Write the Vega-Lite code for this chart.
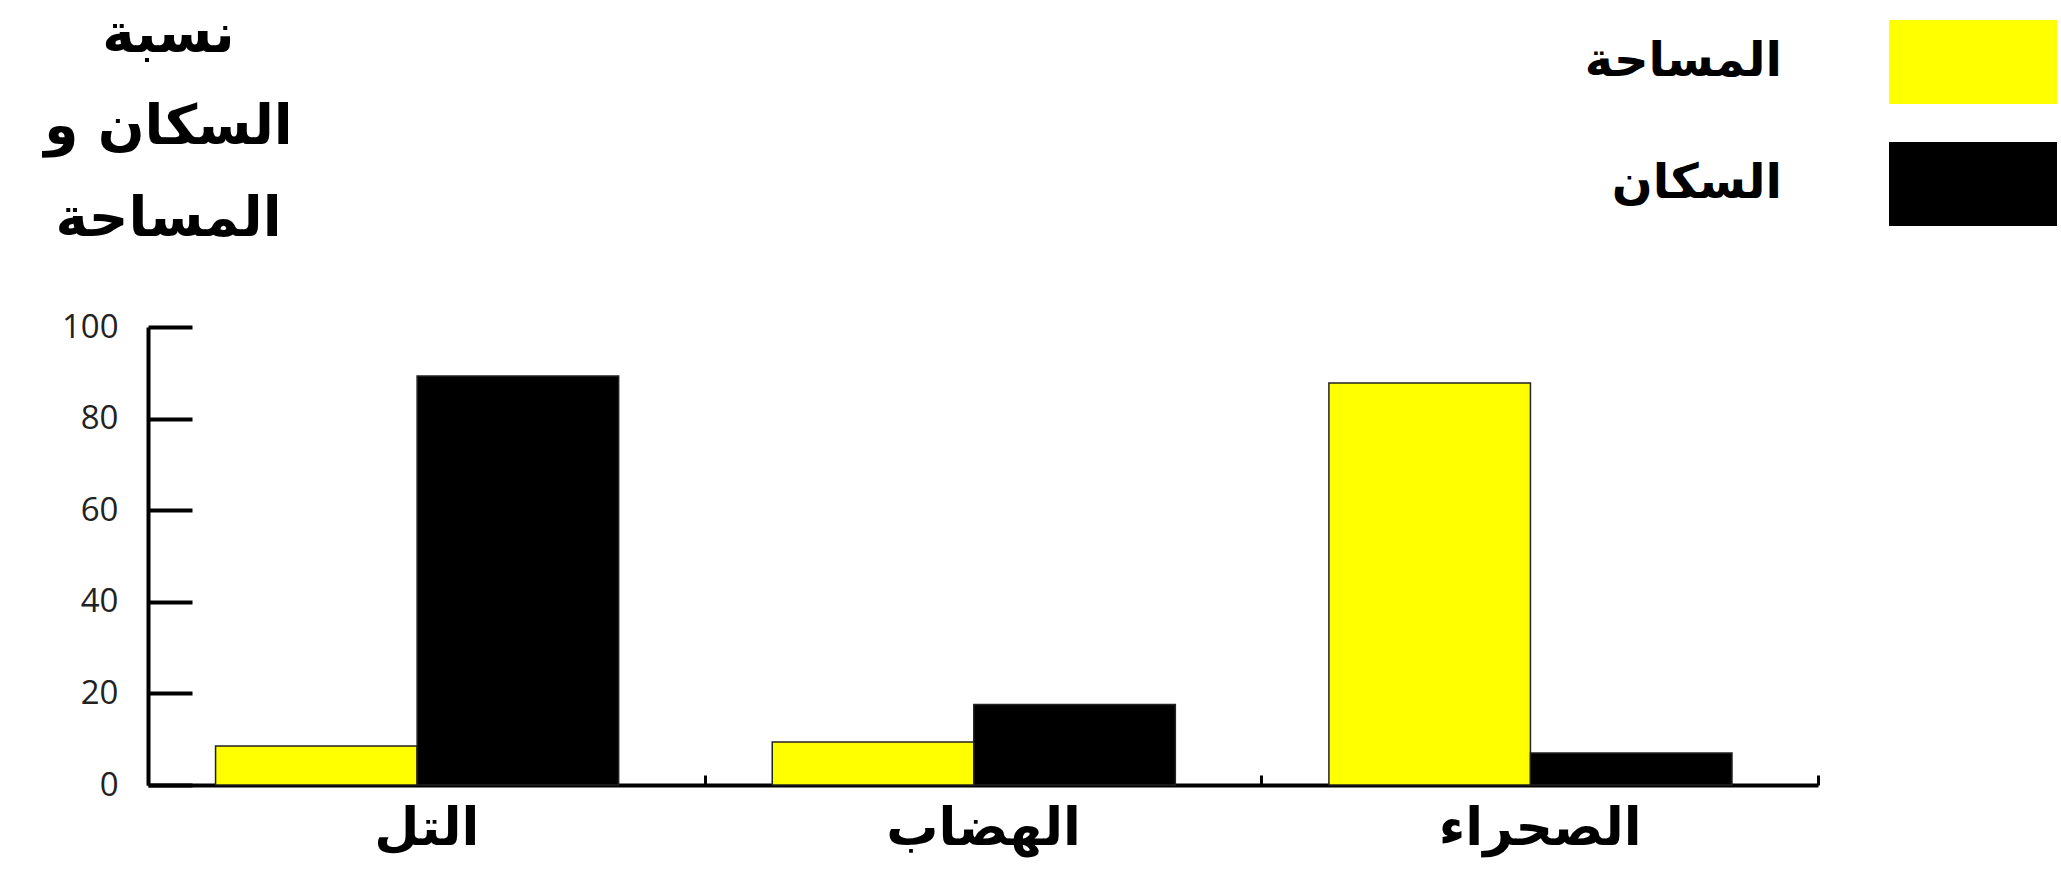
{
  "$schema": "https://vega.github.io/schema/vega-lite/v6.json",
  "width": 1670,
  "height": 458,
  "autosize": {"type": "none"},
  "padding": {"left": 148, "top": 327, "right": 243, "bottom": 99},
  "background": "white",
  "data": {"values": [
    {"region": "التل", "series": "المساحة", "value": 8.5},
    {"region": "التل", "series": "السكان", "value": 89.3},
    {"region": "الهضاب", "series": "المساحة", "value": 9.4},
    {"region": "الهضاب", "series": "السكان", "value": 17.6},
    {"region": "الصحراء", "series": "المساحة", "value": 87.8},
    {"region": "الصحراء", "series": "السكان", "value": 7}
  ]},
  "mark": {"type": "bar", "stroke": "#222222", "strokeWidth": 1.5},
  "encoding": {
    "x": {
      "field": "region", "type": "nominal",
      "sort": ["التل", "الهضاب", "الصحراء"],
      "scale": {"paddingInner": 0, "paddingOuter": 0},
      "axis": {
        "title": null, "labelAngle": 0, "labelFont": "DejaVu Sans", "labelFontWeight": "bold",
        "labelFontSize": 52, "labelColor": "#000000", "labelPadding": 28, "labelLimit": 600,
        "tickBand": "extent", "tickSize": -10, "tickWidth": 3, "tickColor": "#000000",
        "domainColor": "#000000", "domainWidth": 4, "grid": false
      }
    },
    "xOffset": {
      "field": "series", "type": "nominal",
      "sort": ["المساحة", "السكان"],
      "scale": {"paddingInner": 0, "paddingOuter": 0.381, "align": 0.44}
    },
    "y": {
      "field": "value", "type": "quantitative",
      "scale": {"domain": [0, 100], "nice": false},
      "axis": {
        "title": ["نسبة", "السكان و", "المساحة"],
        "titleAngle": 0, "titleAlign": "center", "titleBaseline": "alphabetic",
        "titleX": 20, "titleY": -276, "titleFont": "DejaVu Sans", "titleFontWeight": "bold",
        "titleFontSize": 55, "titleLineHeight": 92, "titleColor": "#000000",
        "values": [0, 20, 40, 60, 80, 100],
        "labelFont": "Open Sans", "labelFontSize": 33, "labelColor": "#222222", "labelPadding": 74,
        "tickSize": -44, "tickWidth": 4, "tickColor": "#000000",
        "domainWidth": 4, "domainColor": "#000000", "grid": false
      }
    },
    "color": {
      "field": "series", "type": "nominal",
      "sort": ["المساحة", "السكان"],
      "scale": {"domain": ["المساحة", "السكان"], "range": ["#FFFF00", "#000000"]},
      "legend": {
        "title": null, "orient": "none", "legendX": 1783, "legendY": -307,
        "symbolType": "M-2,-1H2V1H-2Z", "symbolSize": 7056, "symbolStrokeWidth": 0,
        "symbolOpacity": 1,
        "labelAlign": "right", "labelOffset": -233, "labelFont": "DejaVu Sans",
        "labelFontWeight": "bold", "labelFontSize": 48, "labelColor": "#000000", "labelLimit": 600,
        "rowPadding": 38, "padding": 0
      }
    }
  },
  "config": {"view": {"stroke": null}}
}
